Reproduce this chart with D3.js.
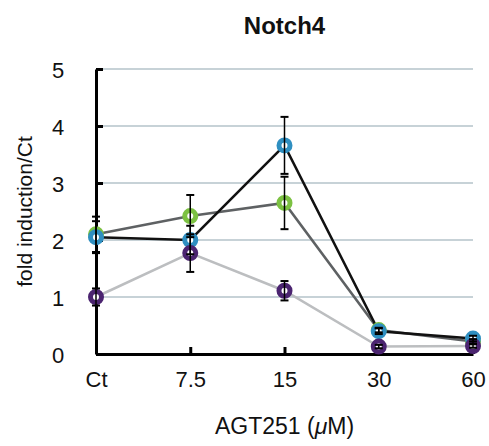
<!DOCTYPE html>
<html>
<head>
<meta charset="utf-8">
<script src="https://cdn.jsdelivr.net/npm/d3@7"></script>
<style>
  html, body { margin: 0; padding: 0; background: #fff; }
  svg { display: block; font-family: "Liberation Sans", Arial, sans-serif; }
</style>
</head>
<body>
<div id="chart"></div>
<script>
const categories = ['Ct', '7.5', '15', '30', '60'];
const yTicks = [0, 1, 2, 3, 4, 5];

// three series
const blueValues = [2.05, 2.0, 3.66, 0.4, 0.27];
const blueErrors = [0.28, 0.25, 0.5, 0.05, 0.05];
const greenValues = [2.1, 2.42, 2.65, 0.42, 0.22];
const greenErrors = [0.31, 0.37, 0.46, 0.04, 0.04];
const purpleValues = [1.0, 1.77, 1.11, 0.13, 0.14];
const purpleErrors = [0.15, 0.33, 0.17, 0.03, 0.03];

const series = [
  { name: 'green', values: greenValues, errors: greenErrors, line: '#5e6163', marker: '#7cc142' },
  { name: 'blue', values: blueValues, errors: blueErrors, line: '#111', marker: '#2f8fc1' },
  { name: 'purple', values: purpleValues, errors: purpleErrors, line: '#bcbec0', marker: '#4b2470' }
];

const width = 489, height = 446;
const margin = { top: 69, right: 16, bottom: 92, left: 96 };

const svg = d3.select('#chart').append('svg')
  .attr('width', width)
  .attr('height', height);

const x = d3.scalePoint()
  .domain(categories)
  .range([margin.left, width - margin.right]);

const y = d3.scaleLinear()
  .domain([0, 5])
  .range([height - margin.bottom, margin.top]);

// gridlines
svg.append('g')
  .selectAll('line')
  .data(yTicks.filter(d => d > 0))
  .join('line')
  .attr('x1', margin.left)
  .attr('x2', width - margin.right)
  .attr('y1', d => y(d))
  .attr('y2', d => y(d))
  .attr('stroke', '#b4c3ca')
  .attr('stroke-width', 1.5);

// axes
const yAxis = svg.append('g')
  .attr('transform', `translate(${margin.left},0)`)
  .call(d3.axisLeft(y).tickValues(yTicks).tickFormat(d3.format('d'))
    .tickSize(-7).tickPadding(38).tickSizeOuter(0));
yAxis.attr('font-family', null).attr('font-size', null);
yAxis.select('.domain').attr('stroke', '#000').attr('stroke-width', 3);
yAxis.selectAll('.tick line').attr('stroke', '#000').attr('stroke-width', 3);
yAxis.selectAll('.tick text')
  .attr('font-size', 22)
  .attr('fill', '#111')
  .attr('text-anchor', 'middle')
  .attr('dy', '0.4em');

const xAxis = svg.append('g')
  .attr('transform', `translate(0,${height - margin.bottom})`)
  .call(d3.axisBottom(x).tickSize(-7).tickPadding(17).tickSizeOuter(0));
xAxis.attr('font-family', null).attr('font-size', null);
xAxis.select('.domain').attr('stroke', '#000').attr('stroke-width', 3);
xAxis.selectAll('.tick line').attr('stroke', '#000').attr('stroke-width', 3);
xAxis.selectAll('.tick text')
  .attr('font-size', 22)
  .attr('fill', '#111');

// lines
const line = d3.line()
  .x((d, i) => x(categories[i]))
  .y(d => y(d));

svg.append('g')
  .selectAll('path')
  .data([series[2], series[0], series[1]])
  .join('path')
  .attr('d', d => line(d.values))
  .attr('fill', 'none')
  .attr('stroke', d => d.line)
  .attr('stroke-width', 2.5);

// markers
series.forEach(s => {
  svg.append('g')
    .selectAll('circle')
    .data(s.values)
    .join('circle')
    .attr('cx', (d, i) => x(categories[i]))
    .attr('cy', d => y(d))
    .attr('r', 5.5)
    .attr('fill', '#fff')
    .attr('stroke', s.marker)
    .attr('stroke-width', 5);
});

// error bars
series.forEach(s => {
  const g = svg.append('g').attr('stroke', '#000').attr('stroke-width', 1.5);
  s.values.forEach((v, i) => {
    const cx = x(categories[i]);
    const e = s.errors[i];
    g.append('line')
      .attr('x1', cx).attr('x2', cx)
      .attr('y1', y(v - e)).attr('y2', y(v + e));
    [v - e, v + e].forEach(t => {
      g.append('line')
        .attr('x1', cx - 4).attr('x2', cx + 4)
        .attr('y1', y(t)).attr('y2', y(t))
        .attr('stroke-width', 2);
    });
  });
});

// title and axis titles
svg.append('text')
  .attr('x', (margin.left + width - margin.right) / 2)
  .attr('y', 34)
  .attr('text-anchor', 'middle')
  .attr('font-size', 24)
  .attr('font-weight', 'bold')
  .attr('fill', '#111')
  .text('Notch4');

svg.append('text')
  .attr('transform', `translate(32,${(margin.top + height - margin.bottom) / 2}) rotate(-90)`)
  .attr('text-anchor', 'middle')
  .attr('font-size', 21)
  .attr('fill', '#111')
  .text('fold induction/Ct');

const xt = svg.append('text')
  .attr('x', (margin.left + width - margin.right) / 2)
  .attr('y', 434)
  .attr('text-anchor', 'middle')
  .attr('font-size', 23)
  .attr('fill', '#111');
xt.append('tspan').text('AGT251 (');
xt.append('tspan').attr('font-style', 'italic').text('μ');
xt.append('tspan').text('M)');
</script>
</body>
</html>
